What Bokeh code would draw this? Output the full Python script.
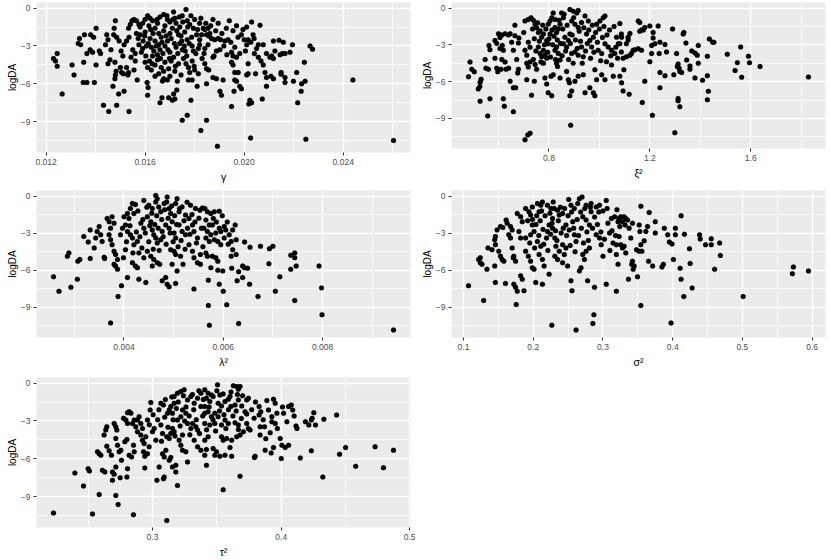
from bokeh.plotting import figure
from bokeh.layouts import row, column
from bokeh.models import FixedTicker, NumeralTickFormatter, Range1d
from bokeh.embed import file_html
from bokeh.resources import INLINE

# ---------------- data ----------------
gamma_pts = [
(0.01230,-4.0),(0.01238,-4.2),(0.01245,-3.6),(0.01245,-4.6),(0.01265,-6.8),
(0.01305,-4.5),(0.01313,-5.3),(0.01330,-2.8),(0.01335,-2.4),(0.01340,-2.9),(0.01355,-2.1),
(0.01350,-5.9),(0.01365,-5.9),(0.01352,-4.3),(0.01365,-3.6),(0.01378,-3.3),(0.01388,-3.5),
(0.01380,-2.1),(0.01392,-2.3),(0.01402,-1.6),(0.01395,-5.9),(0.01402,-4.5),
(0.01415,-3.4),(0.01420,-3.6),(0.01432,-7.7),(0.01453,-8.2),(0.01485,-7.7),
(0.01445,-2.1),(0.01450,-2.5),(0.01440,-2.9),(0.01450,-4.4),(0.01458,-4.1),(0.01462,-3.3),
(0.01475,-1.6),(0.01480,-1.0),(0.01473,-2.1),(0.01485,-2.3),(0.01495,-2.6),
(0.01478,-4.3),(0.01483,-5.0),(0.01480,-5.3),(0.01478,-5.6),(0.01470,-6.2),(0.01493,-6.8),(0.01515,-6.6),
(0.01503,-3.4),(0.01510,-3.8),(0.01500,-4.7),(0.01505,-5.1),(0.01512,-5.2),
(0.01525,-4.7),(0.01533,-5.1),(0.01530,-5.3),(0.01515,-2.9),(0.01525,-2.6),(0.01535,-2.3),
(0.01535,-8.2),(0.01533,-1.6),(0.01540,-1.3),(0.01547,-1.0),(0.01555,-0.9),(0.01565,-1.0),(0.01575,-1.3),
(0.01550,-3.3),(0.01560,-3.6),(0.01543,-3.9),(0.01560,-4.2),(0.01555,-4.9),(0.01568,-5.7),
(0.01580,-2.1),(0.01592,-2.6),(0.01575,-2.9),(0.01600,-0.9),(0.01610,-0.6),(0.01620,-0.8),
(0.01610,-4.7),(0.01608,-5.9),(0.01612,-6.3),(0.01610,-6.9),(0.01618,-4.2),(0.01630,-3.8),
(0.01625,-3.1),(0.01640,-2.6),(0.01655,-2.9),(0.01665,-2.3),(0.01675,-1.8),
(0.01655,-5.2),(0.01665,-4.7),(0.01675,-5.0),(0.01675,-5.6),(0.01690,-5.7),(0.01670,-5.8),
(0.01660,-7.5),(0.01668,-7.1),(0.01695,-7.1),(0.01710,-7.3),(0.01720,-7.2),
(0.01675,-0.5),(0.01690,-0.9),(0.01700,-1.1),(0.01715,-0.3),(0.01720,-0.8),
(0.01735,-2.1),(0.01748,-2.6),(0.01762,-3.4),(0.01755,-4.0),(0.01765,-4.4),(0.01775,-4.7),(0.01780,-5.1),
(0.01775,-5.7),(0.01715,-6.8),(0.01728,-6.5),(0.01750,-8.9),(0.01770,-8.5),(0.01785,-7.3),(0.01790,-5.7),
(0.01765,-0.1),(0.01750,-0.6),(0.01770,-1.0),(0.01795,-1.6),(0.01808,-2.1),(0.01820,-2.9),
(0.01825,-9.7),
(0.01580,-1.5),(0.01590,-1.2),(0.01600,-1.9),(0.01615,-1.4),(0.01630,-1.0),(0.01640,-1.6),(0.01650,-1.2),
(0.01660,-0.7),(0.01680,-1.4),(0.01700,-2.0),(0.01710,-1.6),(0.01725,-1.2),(0.01740,-1.5),(0.01760,-1.9),
(0.01780,-1.3),(0.01800,-0.9),(0.01820,-1.2),(0.01835,-1.6),
(0.01590,-3.2),(0.01605,-3.0),(0.01620,-2.4),(0.01635,-3.4),(0.01650,-3.7),(0.01660,-3.3),(0.01680,-3.0),
(0.01690,-2.6),(0.01700,-3.5),(0.01715,-3.9),(0.01725,-3.1),(0.01740,-2.8),(0.01750,-3.3),(0.01770,-2.5),
(0.01790,-3.0),(0.01805,-3.6),(0.01820,-2.5),
(0.01600,-4.3),(0.01625,-4.9),(0.01640,-4.5),(0.01650,-4.1),(0.01680,-4.3),(0.01695,-4.8),(0.01705,-4.2),
(0.01720,-5.0),(0.01735,-4.4),(0.01745,-5.3),(0.01790,-4.2),(0.01800,-4.9),(0.01815,-5.2),(0.01830,-4.0),
(0.01640,-5.4),(0.01700,-5.4),(0.01730,-5.8),(0.01810,-6.2),
(0.01565,-2.0),(0.01572,-2.4),(0.01585,-3.5),(0.01598,-2.2),(0.01603,-3.8),(0.01613,-2.8),(0.01622,-1.7),
(0.01628,-4.4),(0.01632,-2.0),(0.01645,-3.0),(0.01648,-0.9),(0.01655,-2.0),(0.01662,-4.0),(0.01668,-2.7),
(0.01672,-3.6),(0.01685,-2.2),(0.01688,-0.6),(0.01692,-3.3),(0.01698,-4.0),(0.01705,-2.4),(0.01712,-0.9),
(0.01718,-2.8),(0.01722,-4.6),(0.01728,-1.8),(0.01732,-3.6),(0.01738,-0.7),(0.01745,-2.2),(0.01752,-1.1),
(0.01758,-3.0),(0.01768,-3.8),(0.01772,-1.5),(0.01778,-2.8),(0.01785,-0.6),(0.01788,-2.3),(0.01795,-3.4),
(0.01798,-4.6),(0.01812,-1.7),(0.01815,-3.2),(0.01825,-0.8),(0.01828,-2.1),(0.01838,-3.6),(0.01845,-1.2),
(0.01865,-1.4),(0.01868,-2.4),(0.01885,-1.8),(0.01895,-1.2),(0.01910,-2.0),(0.01918,-3.0),(0.01928,-1.6),
(0.01930,-3.7),(0.01975,-2.3),(0.01995,-1.7),(0.02005,-3.4),(0.02040,-2.4),(0.02050,-3.2),
(0.01874,-0.9),(0.01854,-1.6),(0.01861,-2.0),(0.01848,-2.1),(0.01857,-2.2),(0.01841,-1.7),
(0.01881,-2.5),(0.01895,-2.4),(0.01905,-2.5),(0.01854,-2.9),(0.01841,-3.2),
(0.01888,-3.4),(0.01902,-3.3),(0.01878,-3.8),(0.01874,-3.9),(0.01841,-4.4),(0.01848,-4.8),(0.01857,-4.9),
(0.01874,-5.5),(0.01888,-5.6),(0.01915,-5.7),(0.01848,-6.0),(0.01902,-6.6),(0.01908,-6.9),
(0.01848,-8.9),(0.01892,-10.95),
(0.01940,-1.0),(0.01969,-1.4),(0.01955,-1.8),(0.01922,-2.6),(0.01935,-2.5),(0.01946,-2.7),(0.01962,-3.1),
(0.01949,-3.5),(0.01955,-3.8),(0.01969,-3.9),(0.01982,-3.6),(0.01949,-4.3),(0.01955,-4.5),(0.01962,-5.1),
(0.01976,-5.1),(0.01962,-5.7),(0.01969,-5.8),(0.01982,-6.2),(0.01989,-6.4),(0.01959,-6.6),(0.01949,-7.8),
(0.01989,-2.1),(0.02000,-2.5),(0.02016,-2.5),(0.02010,-1.5),(0.02030,-1.1),(0.02064,-1.35),(0.02036,-2.1),
(0.02027,-2.7),(0.02010,-2.9),
(0.02016,-4.4),(0.02016,-5.2),(0.02010,-5.3),(0.02046,-5.2),(0.02023,-7.3),(0.02030,-7.5),(0.02019,-7.6),
(0.02073,-7.2),(0.02026,-10.3),
(0.02057,-2.9),(0.02077,-2.9),(0.02041,-3.6),(0.02057,-3.9),(0.02068,-4.2),(0.02077,-4.5),(0.02084,-5.1),
(0.02090,-5.5),(0.02090,-6.2),
(0.02090,-3.6),(0.02104,-3.9),(0.02111,-3.8),(0.02118,-4.0),(0.02124,-3.4),(0.02118,-2.6),(0.02141,-2.55),
(0.02158,-2.7),
(0.02108,-5.4),(0.02118,-5.6),(0.02145,-3.7),(0.02154,-3.6),(0.02165,-3.6),(0.02149,-5.1),(0.02149,-5.25),
(0.02165,-5.5),(0.02165,-5.9),
(0.02185,-3.5),(0.02195,-2.9),(0.02199,-5.8),(0.02212,-5.1),(0.02243,-4.3),(0.02232,-6.0),(0.02246,-5.8),
(0.02230,-6.6),(0.02216,-7.5),
(0.02266,-3.0),(0.02276,-3.25),(0.02249,-10.4),(0.02439,-5.7),(0.02603,-10.5),
]

xi2_pts = [
(0.481,-5.6),(0.487,-4.4),(0.494,-5.0),(0.504,-5.2),
(0.520,-6.6),(0.526,-6.4),(0.531,-5.8),(0.527,-6.05),(0.527,-7.6),
(0.547,-4.2),(0.550,-4.9),(0.560,-5.0),(0.557,-8.8),(0.562,-3.05),(0.566,-3.4),(0.566,-7.4),
(0.586,-2.65),(0.593,-2.9),(0.600,-2.1),(0.606,-2.4),(0.613,-2.2),(0.626,-2.1),(0.639,-2.2),(0.646,-2.1),
(0.586,-4.1),(0.593,-4.9),(0.597,-5.2),(0.606,-3.3),(0.619,-3.45),(0.615,-3.05),(0.613,-4.2),(0.626,-4.4),
(0.619,-7.4),(0.623,-8.0),(0.610,-5.0),(0.630,-5.0),(0.640,-4.9),(0.646,-5.97),
(0.652,-2.8),(0.659,-3.45),(0.665,-2.25),(0.665,-1.4),(0.659,-6.5),(0.668,-6.5),(0.659,-8.45),
(0.672,-4.2),(0.679,-5.0),(0.676,-5.3),(0.679,-2.85),(0.681,-2.45),
(0.700,-2.0),(0.705,-1.06),(0.718,-0.93),(0.729,-0.8),(0.738,-1.0),(0.745,-1.33),
(0.705,-3.45),(0.712,-3.85),(0.718,-2.8),(0.725,-3.2),(0.712,-5.85),
(0.705,-10.74),(0.716,-10.34),(0.725,-10.2),
(0.712,-4.5),(0.718,-4.8),(0.725,-4.4),(0.738,-4.2),(0.745,-4.6),(0.751,-5.0),(0.731,-7.1),(0.742,-5.97),
(0.751,-1.6),(0.758,-2.0),(0.765,-1.86),(0.771,-2.39),(0.778,-2.12),
(0.758,-3.18),(0.765,-3.71),(0.771,-3.98),(0.778,-3.45),(0.784,-3.85),(0.791,-4.1),
(0.778,-4.5),(0.784,-5.7),(0.791,-6.2),(0.791,-2.65),(0.797,-2.92),(0.804,-2.12),
(0.797,-1.33),(0.804,-1.06),(0.811,-0.8),(0.817,-0.4),(0.824,-0.93),
(0.797,-6.9),(0.811,-7.16),(0.808,-5.57),(0.817,-5.44),
(0.824,-1.59),(0.830,-1.99),(0.837,-1.72),(0.844,-1.33),(0.850,-0.4),(0.857,-0.8),
(0.824,-3.45),(0.830,-3.18),(0.837,-3.71),(0.844,-4.24),(0.834,-4.77),(0.830,-4.51),(0.844,-5.7),
(0.857,-2.92),(0.863,-2.39),(0.870,-3.18),(0.877,-2.65),(0.883,-2.12),
(0.870,-5.17),(0.877,-5.84),(0.881,-6.1),(0.883,-7.16),(0.890,-6.76),(0.886,-9.55),
(0.883,-0.13),(0.896,-0.27),(0.910,-0.4),(0.916,-0.2),
(0.890,-1.06),(0.903,-1.33),(0.916,-1.59),(0.929,-1.19),(0.943,-0.66),(0.956,-1.06),
(0.890,-3.71),(0.896,-4.51),(0.903,-3.58),(0.916,-3.85),(0.929,-3.18),(0.936,-3.98),
(0.903,-5.97),(0.916,-5.57),(0.936,-5.44),(0.943,-6.9),
(0.949,-2.12),(0.962,-2.65),(0.969,-3.18),(0.976,-2.39),(0.962,-6.5),(0.976,-6.9),
(0.982,-5.04),(0.989,-5.84),(0.982,-7.16),
(0.989,-1.33),(1.002,-1.06),(1.015,-0.8),(1.022,-0.66),
(0.995,-3.45),(1.009,-3.71),(1.022,-2.92),(1.035,-3.18),(1.009,-5.44),(1.022,-5.84),(1.028,-4.38),
(1.048,-3.45),(1.061,-3.71),(1.075,-2.92),(1.068,-2.39),(1.088,-2.39),
(1.048,-4.64),(1.055,-5.57),(1.081,-5.57),(1.088,-6.1),
(0.735,-1.7),(0.742,-2.5),(0.748,-3.5),(0.755,-1.2),(0.762,-2.7),(0.768,-4.4),(0.775,-1.4),(0.782,-3.0),
(0.788,-1.7),(0.795,-3.6),(0.800,-2.5),(0.806,-4.0),(0.812,-1.8),(0.815,-3.0),(0.820,-2.3),(0.826,-4.2),
(0.833,-2.6),(0.840,-1.0),(0.846,-2.9),(0.852,-3.9),(0.855,-1.7),(0.860,-0.5),(0.866,-3.5),(0.872,-1.4),
(0.878,-4.2),(0.885,-2.9),(0.892,-2.2),(0.898,-0.8),(0.905,-2.6),(0.912,-3.3),(0.920,-1.9),(0.925,-2.7),
(0.932,-4.5),(0.938,-1.6),(0.945,-3.5),(0.952,-2.9),(0.958,-1.8),(0.965,-4.1),(0.972,-1.4),(0.978,-3.6),
(0.985,-2.0),(0.992,-2.8),(1.000,-1.7),(1.005,-4.3),(1.012,-2.4),(1.018,-1.5),(1.030,-2.2),(1.040,-1.8),
(1.045,-3.9),(1.058,-1.5),(1.065,-3.2),(1.072,-4.1),
(1.081,-1.27),(1.087,-2.12),(1.081,-2.92),(1.087,-3.58),(1.094,-4.1),(1.097,-5.04),(1.094,-6.76),(1.118,-7.03),
(1.107,-2.92),(1.114,-2.6),(1.121,-2.07),(1.114,-2.39),(1.107,-3.98),(1.121,-3.85),(1.127,-3.71),(1.134,-3.45),
(1.141,-3.4),(1.154,-3.32),(1.167,-3.45),
(1.154,-1.06),(1.160,-1.19),(1.167,-1.8),(1.160,-1.9),(1.180,-1.59),(1.174,-1.8),
(1.170,-7.7),(1.180,-5.97),
(1.200,-1.46),(1.213,-1.99),(1.213,-2.44),(1.207,-3.05),(1.207,-3.71),(1.200,-4.38),(1.220,-2.92),(1.240,-2.79),
(1.237,-3.71),(1.233,-1.46),
(1.210,-8.75),(1.240,-5.25),(1.260,-5.52),(1.240,-6.5),(1.260,-2.97),(1.266,-3.58),(1.290,-1.72),
(1.306,-3.71),(1.312,-4.56),(1.316,-4.9),(1.319,-5.17),(1.309,-4.77),(1.326,-5.25),(1.299,-10.16),(1.295,-5.44),
(1.312,-7.37),(1.312,-7.56),(1.319,-8.04),(1.332,-2.12),(1.335,-1.99),(1.343,-2.86),
(1.346,-4.24),(1.359,-4.72),(1.359,-4.99),(1.366,-3.5),(1.379,-3.66),(1.388,-3.85),(1.392,-4.51),
(1.379,-5.7),(1.409,-5.89),(1.428,-5.52),(1.392,-3.05),(1.428,-3.93),(1.436,-2.52),(1.449,-2.79),(1.454,-2.79),
(1.432,-6.79),(1.428,-7.48),(1.507,-3.77),(1.538,-5.09),(1.547,-4.46),(1.560,-3.18),(1.564,-5.65),
(1.591,-3.93),(1.595,-4.46),(1.637,-4.77),(1.829,-5.62),
]

lambda2_pts = [
(0.00258,-6.54),(0.00269,-7.71),(0.00286,-4.87),(0.00289,-4.6),(0.00293,-7.39),(0.00306,-6.73),(0.00307,-5.27),
(0.00311,-5.13),(0.00319,-3.27),(0.00328,-3.72),(0.00332,-2.74),(0.00332,-5.05),
(0.00340,-4.2),(0.00343,-3.4),(0.00346,-2.87),(0.00350,-2.47),(0.00353,-3.14),(0.00356,-3.67),(0.00360,-4.95),
(0.00361,-5.05),(0.00366,-1.81),(0.00370,-2.07),(0.00373,-2.61),(0.00376,-1.68),(0.00380,-2.2),
(0.00370,-3.14),(0.00373,-3.54),(0.00376,-3.94),(0.00380,-4.47),(0.00383,-4.73),(0.00387,-5.13),(0.00380,-5.53),
(0.00383,-5.67),(0.00387,-5.93),
(0.00373,-10.27),(0.00388,-8.14),(0.00395,-7.26),(0.00399,-5.0),(0.00403,-4.34),
(0.00393,-3.14),(0.00397,-2.61),(0.00403,-2.34),(0.00407,-2.87),(0.00400,-1.68),(0.00407,-1.41),(0.00410,-1.81),
(0.00407,-6.6),
(0.00413,-3.14),(0.00417,-3.4),(0.00420,-3.94),(0.00427,-3.67),(0.00413,-1.01),(0.00420,-1.41),(0.00417,-0.61),
(0.00423,-0.69),
(0.00417,-5.4),(0.00423,-5.67),(0.00427,-5.8),(0.00430,-6.73),(0.00444,-6.99),
(0.00434,-2.2),(0.00440,-2.61),(0.00447,-1.68),(0.00454,-2.07),(0.00457,-2.74),
(0.00430,-4.6),(0.00440,-5.0),(0.00447,-4.47),(0.00454,-4.87),(0.00460,-5.13),(0.00457,-5.67),
(0.00440,-0.35),(0.00450,-0.74),(0.00457,-1.01),(0.00464,-0.48),(0.00470,-0.88),(0.00474,-1.28),(0.00481,-0.61),
(0.00464,0.05),(0.00467,-0.21),
(0.00460,-3.14),(0.00464,-3.4),(0.00467,-3.8),(0.00474,-3.54),(0.00477,-2.87),(0.00467,-5.4),(0.00472,-5.53),
(0.00477,-6.86),(0.00484,-6.6),(0.00487,-7.13),(0.00491,-7.34),
(0.00487,-0.08),(0.00486,-0.48),(0.00491,-1.01),(0.00494,-1.41),
(0.00484,-2.34),(0.00491,-2.61),(0.00497,-2.07),(0.00501,-3.0),(0.00504,-3.4),
(0.00494,-4.34),(0.00501,-4.47),(0.00504,-4.73),(0.00497,-5.53),(0.00504,-7.07),
(0.00507,-0.21),(0.00504,-0.61),(0.00511,-1.28),(0.00517,-0.88),(0.00524,-1.54),
(0.00511,-2.34),(0.00517,-2.87),(0.00524,-3.14),(0.00528,-2.61),(0.00514,-4.87),(0.00519,-5.53),(0.00507,-6.06),
(0.00531,-1.81),(0.00538,-2.34),(0.00541,-2.87),(0.00548,-3.4),
(0.00534,-0.74),(0.00544,-1.01),(0.00553,-1.14),(0.00558,-0.96),
(0.00531,-3.94),(0.00538,-4.47),(0.00541,-5.0),(0.00548,-5.4),(0.00554,-5.53),(0.00541,-7.53),(0.00554,-4.73),
(0.00405,-3.7),(0.00412,-2.4),(0.00418,-4.6),(0.00425,-2.9),(0.00428,-1.2),(0.00432,-3.3),(0.00436,-4.2),
(0.00438,-1.9),(0.00443,-3.0),(0.00446,-0.9),(0.00450,-3.7),(0.00452,-2.4),(0.00456,-1.4),(0.00459,-4.3),
(0.00462,-2.3),(0.00466,-1.6),(0.00469,-2.6),(0.00471,-4.4),(0.00476,-1.9),(0.00479,-3.3),(0.00482,-1.1),
(0.00485,-3.9),(0.00489,-1.8),(0.00493,-3.0),(0.00496,-0.8),(0.00499,-3.7),(0.00502,-1.6),(0.00506,-2.3),
(0.00509,-4.1),(0.00512,-1.0),(0.00515,-3.6),(0.00521,-2.0),(0.00523,-4.3),(0.00527,-0.5),(0.00533,-3.1),
(0.00537,-1.5),(0.00543,-2.1),(0.00546,-3.8),(0.00551,-1.8),(0.00556,-2.6),(0.00559,-4.1),(0.00563,-1.0),
(0.00586,-2.1),(0.00598,-1.6),(0.00608,-2.1),(0.00610,-3.9),
(0.00568,-1.28),(0.00575,-1.41),(0.00582,-1.28),(0.00592,-1.22),(0.00580,-1.81),(0.00565,-1.94),(0.00572,-2.34),
(0.00578,-2.34),
(0.00561,-2.61),(0.00568,-2.87),(0.00575,-3.14),(0.00585,-3.0),(0.00592,-2.61),(0.00595,-2.87),(0.00602,-2.47),
(0.00605,-2.74),(0.00612,-3.14),(0.00619,-2.74),(0.00624,-2.34),
(0.00565,-3.4),(0.00572,-3.67),(0.00582,-3.54),(0.00589,-3.67),(0.00595,-3.94),(0.00602,-3.4),(0.00616,-3.67),
(0.00626,-3.54),
(0.00565,-4.6),(0.00568,-4.87),(0.00578,-4.87),(0.00585,-5.0),(0.00589,-5.27),(0.00575,-5.8),(0.00589,-6.01),
(0.00599,-6.06),
(0.00616,-4.87),(0.00619,-4.34),(0.00626,-4.73),(0.00617,-5.85),(0.00570,-6.81),(0.00592,-7.13),(0.00600,-7.71),
(0.00570,-8.86),(0.00607,-8.8),(0.00572,-10.45),(0.00631,-10.32),
(0.00628,-6.86),(0.00631,-6.12),(0.00639,-5.67),(0.00643,-5.8),(0.00649,-5.85),(0.00639,-6.6),(0.00653,-7.13),
(0.00643,-3.72),(0.00654,-4.15),(0.00670,-8.14),(0.00675,-4.07),(0.00693,-4.26),(0.00700,-4.07),(0.00692,-5.48),
(0.00705,-7.71),(0.00714,-6.54),(0.00736,-4.79),(0.00744,-4.6),(0.00744,-5.0),(0.00736,-5.93),(0.00747,-5.67),
(0.00744,-8.46),
(0.00793,-5.67),(0.00798,-7.45),(0.00799,-9.6),(0.00943,-10.85),
]

sigma2_pts = [
(0.1072,-7.26),(0.1217,-5.13),(0.1241,-5.4),(0.1265,-5.53),(0.1241,-5.0),(0.1289,-8.46),(0.1337,-5.93),
(0.1352,-4.2),(0.1409,-4.34),(0.1448,-5.67),(0.1458,-6.99),(0.1458,-3.27),(0.1448,-3.54),(0.1458,-3.94),
(0.1482,-2.74),(0.1530,-2.47),(0.1564,-2.55),(0.1506,-4.47),(0.1530,-4.87),(0.1554,-5.13),(0.1578,-5.27),
(0.1602,-7.07),
(0.1612,-1.94),(0.1626,-2.2),(0.1674,-2.47),(0.1698,-2.74),(0.1674,-3.4),(0.1650,-3.14),
(0.1698,-4.2),(0.1722,-4.87),(0.1747,-5.27),(0.1713,-5.0),(0.1722,-7.13),(0.1747,-7.39),(0.1771,-7.71),
(0.1756,-8.78),
(0.1771,-1.41),(0.1819,-1.68),(0.1843,-2.07),(0.1795,-2.87),(0.1819,-3.4),(0.1819,-6.46),(0.1843,-6.73),
(0.1867,-7.66),
(0.1891,-1.01),(0.1939,-1.28),(0.1987,-0.88),(0.1963,-1.54),
(0.1891,-4.47),(0.1930,-4.87),(0.1963,-5.27),(0.1987,-5.8),(0.2012,-5.93),(0.1891,-3.4),(0.1963,-3.14),
(0.2012,-2.87),(0.1987,-2.34),(0.2036,-6.99),
(0.2060,-0.61),(0.2108,-0.74),(0.2132,-0.48),(0.2084,-1.28),
(0.2060,-3.67),(0.2108,-4.07),(0.2084,-4.73),(0.2132,-5.13),(0.2156,-5.67),(0.2132,-7.13),
(0.2204,-0.74),(0.2253,-1.01),(0.2277,-1.81),(0.2228,-2.34),(0.2204,-2.87),(0.2277,-2.61),(0.2228,-6.33),
(0.2267,-10.45),
(0.2286,-0.48),(0.2349,-1.14),(0.2373,-1.54),(0.2421,-1.41),
(0.2310,-3.4),(0.2325,-4.07),(0.2373,-4.47),(0.2421,-3.94),(0.2445,-4.73),(0.2469,-4.2),
(0.2310,-4.87),(0.2349,-5.13),(0.2421,-5.4),(0.2493,-5.67),
(0.2508,-0.27),(0.2541,-0.74),(0.2590,-1.01),(0.2638,-0.61),(0.2662,-0.21),(0.2700,-0.08),
(0.2469,-2.34),(0.2517,-2.74),(0.2566,-2.07),(0.2590,-3.14),(0.2614,-3.67),
(0.2541,-6.86),(0.2556,-7.66),(0.2614,-10.85),(0.2662,-6.06),(0.2686,-5.8),
(0.2710,-4.73),(0.2734,-5.13),(0.2758,-4.47),(0.2806,-4.2),
(0.2710,-1.68),(0.2758,-1.94),(0.2806,-2.34),(0.2830,-1.28),
(0.2758,-0.74),(0.2830,-0.61),(0.2903,-0.88),(0.2951,-0.74),
(0.2780,-6.86),(0.2855,-10.32),(0.2870,-9.6),(0.2879,-7.39),
(0.2903,-3.14),(0.2951,-3.4),(0.2975,-3.94),(0.3000,-4.87),(0.3047,-0.35),(0.3047,-7.13),
(0.3071,-2.2),(0.3120,-1.81),(0.3168,-1.68),(0.3216,-2.07),
(0.3095,-3.0),(0.3144,-3.8),(0.3192,-3.94),(0.3192,-4.73),(0.3216,-5.53),(0.3192,-7.71),
(0.1920,-2.0),(0.1950,-3.8),(0.1990,-1.9),(0.2020,-4.2),(0.2040,-2.3),(0.2050,-1.6),(0.2080,-3.2),(0.2100,-2.0),
(0.2120,-1.2),(0.2140,-2.7),(0.2150,-3.9),(0.2170,-1.6),(0.2190,-3.4),(0.2210,-4.4),(0.2240,-1.4),(0.2250,-3.1),
(0.2270,-2.2),(0.2300,-1.0),(0.2320,-2.8),(0.2340,-3.6),(0.2360,-2.0),(0.2390,-0.9),(0.2400,-3.0),(0.2430,-2.6),
(0.2450,-1.0),(0.2480,-3.2),(0.2500,-1.6),(0.2530,-4.0),(0.2550,-1.3),(0.2580,-2.6),(0.2600,-4.5),(0.2630,-1.9),
(0.2650,-3.2),(0.2680,-1.3),(0.2690,-2.6),(0.2720,-3.8),(0.2740,-1.0),(0.2770,-2.9),(0.2790,-3.6),(0.2820,-0.9),
(0.2850,-2.6),(0.2880,-1.7),(0.2920,-2.3),(0.2940,-1.3),(0.2970,-2.9),(0.3000,-1.2),(0.3020,-3.5),(0.3060,-1.0),
(0.3100,-4.4),(0.3130,-2.8),(0.3180,-3.2),(0.3200,-1.1),
(0.3231,-1.81),(0.3255,-1.68),(0.3303,-1.68),(0.3327,-1.81),(0.3351,-1.94),(0.3279,-2.07),(0.3317,-2.34),
(0.3241,-2.47),
(0.3375,-2.61),(0.3423,-2.2),(0.3399,-3.4),(0.3231,-3.27),(0.3255,-3.94),(0.3303,-4.07),(0.3279,-4.2),
(0.3327,-4.6),
(0.3423,-5.27),(0.3413,-5.53),(0.3447,-5.67),(0.3433,-5.93),(0.3365,-6.73),(0.3495,-6.54),
(0.3481,-4.34),(0.3519,-4.47),(0.3558,-4.47),(0.3543,-3.94),(0.3591,-3.62),
(0.3519,-2.34),(0.3529,-2.87),(0.3543,-0.82),(0.3663,-1.33),(0.3639,-2.47),(0.3543,-8.86),
(0.3615,-2.87),(0.3750,-2.07),(0.3750,-3.0),(0.3654,-5.27),(0.3712,-5.67),(0.3846,-5.74),(0.3866,-5.53),
(0.3880,-2.61),(0.3928,-3.14),(0.3952,-3.72),(0.3990,-3.88),(0.4010,-5.13),(0.4038,-3.14),(0.4038,-2.61),
(0.3976,-10.27),
(0.4106,-5.85),(0.4120,-6.73),(0.4120,-1.6),(0.4168,-3.09),(0.4159,-8.14),(0.4240,-4.26),(0.4250,-5.45),
(0.4279,-7.45),
(0.4385,-3.14),(0.4394,-3.48),(0.4471,-3.94),(0.4553,-3.94),(0.4553,-3.46),(0.4673,-3.8),(0.4683,-4.81),
(0.4601,-5.93),
(0.5010,-8.14),(0.5716,-6.28),(0.5731,-5.74),(0.5947,-6.06),
]

tau2_pts = [
(0.2231,-10.29),(0.2397,-7.13),(0.2464,-8.16),(0.2500,-6.78),(0.2510,-6.97),(0.2534,-10.37),
(0.2573,-5.45),(0.2586,-5.59),(0.2599,-5.72),(0.2586,-8.83),(0.2611,-6.91),(0.2630,-7.05),
(0.2624,-4.12),(0.2637,-3.72),(0.2645,-3.46),(0.2645,-5.0),(0.2663,-5.37),(0.2681,-5.72),
(0.2689,-7.05),(0.2702,-7.23),(0.2715,-6.65),(0.2689,-7.71),(0.2715,-8.91),(0.2733,-9.63),
(0.2702,-3.19),(0.2715,-3.46),(0.2723,-3.72),(0.2715,-4.39),(0.2728,-4.92),(0.2741,-5.45),(0.2754,-5.32),
(0.2759,-6.12),(0.2749,-7.5),
(0.2775,-2.79),(0.2793,-2.93),(0.2806,-3.19),(0.2785,-4.65),(0.2801,-4.47),(0.2806,-2.34),(0.2819,-2.26),
(0.2832,-2.39),
(0.2806,-6.78),(0.2801,-7.45),(0.2819,-5.72),(0.2837,-5.85),(0.2852,-4.92),(0.2858,-5.45),
(0.2845,-3.19),(0.2858,-2.93),(0.2870,-3.46),(0.2883,-3.86),(0.2852,-10.43),
(0.2883,-2.93),(0.2896,-2.66),(0.2909,-3.19),(0.2922,-3.59),(0.2909,-4.12),(0.2922,-4.52),(0.2935,-4.79),
(0.2948,-4.26),
(0.2930,-5.45),(0.2940,-5.8),(0.2961,-5.59),(0.2974,-5.05),(0.2940,-6.73),(0.2961,-2.93),(0.2982,-2.13),
(0.2987,-1.54),
(0.3000,-3.86),(0.3013,-3.59),(0.3026,-4.52),(0.3034,-7.71),(0.3052,-6.65),(0.3065,-3.32),(0.3078,-3.99),
(0.3065,-1.6),(0.3085,-1.73),
(0.3085,-7.58),(0.3091,-7.45),(0.3111,-10.9),(0.3078,-5.59),(0.3091,-5.85),(0.3104,-5.32),
(0.3117,-2.39),(0.3130,-2.13),(0.3142,-1.86),(0.3155,-2.39),(0.3168,-1.6),
(0.3111,-4.26),(0.3130,-4.39),(0.3142,-3.99),(0.3155,-3.59),(0.3168,-3.86),(0.3130,-6.12),(0.3142,-5.9),
(0.3155,-6.65),(0.3181,-7.05),(0.3194,-8.11),(0.3181,-6.52),
(0.3168,-1.06),(0.3194,-0.8),(0.3220,-0.66),(0.3246,-0.53),
(0.3194,-2.93),(0.3220,-2.66),(0.3233,-2.13),(0.3259,-2.39),(0.3207,-4.52),(0.3220,-4.92),(0.3233,-4.12),
(0.3233,-5.32),(0.3259,-5.45),(0.3272,-6.25),
(0.3272,-1.33),(0.3298,-1.06),(0.3324,-1.6),(0.3350,-1.2),
(0.3272,-3.19),(0.3298,-3.59),(0.3311,-3.19),(0.3337,-3.46),(0.3350,-3.72),(0.3324,-4.52),(0.3350,-5.05),
(0.3376,-5.32),
(0.3376,-1.86),(0.3376,-0.8),
(0.2975,-3.3),(0.3005,-2.5),(0.3040,-2.9),(0.3050,-2.1),(0.3070,-4.6),(0.3095,-2.7),(0.3100,-1.3),(0.3120,-3.5),
(0.3150,-1.1),(0.3160,-2.9),(0.3175,-4.2),(0.3185,-2.0),(0.3200,-1.5),(0.3215,-3.4),(0.3240,-1.0),(0.3250,-3.0),
(0.3260,-1.9),(0.3285,-2.6),(0.3290,-4.1),(0.3310,-0.9),(0.3320,-2.1),(0.3340,-2.9),(0.3360,-0.6),(0.3365,-4.0),
(0.3390,-2.6),(0.3395,-1.3),(0.3420,-3.7),(0.3440,-1.9),(0.3470,-2.9),(0.3490,-3.8),(0.3500,-0.6),(0.3520,-2.2),
(0.3555,-2.5),(0.3570,-3.6),(0.3590,-2.1),(0.3610,-0.7),(0.3625,-2.6),(0.3650,-2.2),(0.3660,-0.9),(0.3690,-2.8),
(0.3700,-1.0),(0.3770,-2.1),(0.3800,-1.5),(0.3860,-2.9),(0.3880,-4.4),(0.3970,-3.6),(0.4010,-1.9),(0.4100,-2.6),
(0.3406,-0.53),(0.3432,-0.8),(0.3458,-0.93),(0.3419,-1.2),(0.3445,-1.46),(0.3406,-1.86),
(0.3471,-1.06),(0.3505,-0.13),(0.3523,-0.93),(0.3549,-0.85),
(0.3510,-1.6),(0.3536,-1.81),(0.3563,-1.46),(0.3589,-1.28),(0.3602,-1.06),(0.3628,-0.21),(0.3654,-0.27),
(0.3667,-0.48),(0.3680,-0.27),
(0.3609,-1.86),(0.3641,-1.73),(0.3667,-1.33),(0.3693,-1.81),(0.3732,-1.33),(0.3745,-1.2),
(0.3406,-2.39),(0.3432,-2.26),(0.3458,-2.66),(0.3484,-2.39),(0.3510,-2.66),(0.3563,-2.93),
(0.3406,-3.19),(0.3445,-3.32),(0.3484,-3.19),(0.3536,-3.32),(0.3589,-3.19),(0.3641,-3.14),(0.3667,-3.32),
(0.3719,-2.26),(0.3732,-2.45),(0.3732,-3.19),(0.3745,-3.59),(0.3758,-3.72),
(0.3406,-4.52),(0.3432,-4.26),(0.3471,-5.19),(0.3497,-5.45),(0.3419,-5.27),(0.3406,-5.72),(0.3419,-6.52),
(0.3484,-5.72),(0.3523,-5.8),(0.3563,-5.72),(0.3615,-5.8),(0.3602,-5.11),(0.3615,-4.52),(0.3654,-4.26),
(0.3680,-4.12),(0.3706,-3.86),(0.3667,-3.67),
(0.3536,-4.26),(0.3549,-4.52),(0.3576,-4.39),(0.3549,-8.46),(0.3680,-7.39),(0.3792,-5.9),(0.3797,-5.8),
(0.3789,-2.79),(0.3828,-2.53),(0.3841,-2.26),(0.3828,-1.86),(0.3836,-3.46),(0.3836,-4.12),(0.3870,-3.46),
(0.3875,-5.32),
(0.3888,-1.38),(0.3901,-2.13),(0.3927,-2.66),(0.3940,-1.28),(0.3953,-1.6),(0.3966,-2.39),(0.3953,-3.19),
(0.3927,-3.06),
(0.3914,-3.94),(0.3940,-5.11),(0.3922,-5.53),(0.3992,-4.39),(0.4005,-4.92),(0.4031,-5.11),(0.4057,-4.92),
(0.4000,-5.98),
(0.4018,-2.39),(0.4044,-3.06),(0.4057,-1.86),(0.4078,-1.73),(0.4089,-2.13),(0.4115,-3.4),(0.4122,-3.59),
(0.4148,-5.93),
(0.4188,-3.06),(0.4214,-3.32),(0.4234,-2.93),(0.4240,-2.79),(0.4253,-2.34),(0.4266,-3.32),(0.4234,-5.37),
(0.4323,-7.45),(0.4331,-2.87),
(0.4430,-2.53),(0.4453,-5.64),(0.4500,-5.11),(0.4578,-6.6),(0.4729,-5.05),(0.4794,-6.7),(0.4872,-5.32),
]

y_label = "logDA"
y_ticks = [-9, -6, -3, 0]
y_minor = [-10.5, -7.5, -4.5, -1.5]

gamma_ticks = [0.012, 0.016, 0.020, 0.024]
gamma_minor = [0.010, 0.014, 0.018, 0.022, 0.026]
xi2_ticks = [0.8, 1.2, 1.6]
xi2_minor = [0.4, 0.6, 1.0, 1.4, 1.8]
lambda2_ticks = [0.004, 0.006, 0.008]
lambda2_minor = [0.003, 0.005, 0.007, 0.009]
sigma2_ticks = [0.1, 0.2, 0.3, 0.4, 0.5, 0.6]
sigma2_minor = [0.15, 0.25, 0.35, 0.45, 0.55]
tau2_ticks = [0.3, 0.4, 0.5]
tau2_minor = [0.25, 0.35, 0.45]

FONT = "Liberation Sans"


def panel(pts, xlabel, ticks, minor, fmt, width, height, left, right, top, bottom):
    xs = [p[0] for p in pts]
    ys = [p[1] for p in pts]
    lo, hi = min(xs), max(xs)
    pad = (hi - lo) * 0.05
    p = figure(width=width, height=height,
               x_range=Range1d(lo - pad, hi + pad), y_range=Range1d(-11.45, 0.45),
               output_backend="svg", toolbar_location=None,
               min_border_left=left, min_border_right=right,
               min_border_top=top, min_border_bottom=bottom,
               background_fill_color="#EBEBEB", border_fill_color="white",
               outline_line_color=None)
    p.scatter(xs, ys, size=5, fill_color="black", line_color="black", line_width=0.2)
    p.xaxis.ticker = FixedTicker(ticks=ticks, minor_ticks=minor)
    p.yaxis.ticker = FixedTicker(ticks=y_ticks, minor_ticks=y_minor)
    p.xaxis.formatter = NumeralTickFormatter(format=fmt)
    p.xaxis.axis_label = xlabel
    p.yaxis.axis_label = y_label
    for ax in p.axis:
        ax.axis_line_color = None
        ax.major_tick_line_color = "#333333"
        ax.major_tick_line_width = 1
        ax.major_tick_in = 0
        ax.major_tick_out = 3
        ax.minor_tick_line_color = None
        ax.major_label_text_font = FONT
        ax.major_label_text_font_size = "8.5px"
        ax.major_label_text_color = "#4D4D4D"
        ax.major_label_standoff = 2
        ax.axis_label_text_font = FONT
        ax.axis_label_text_font_style = "normal"
        ax.axis_label_text_color = "black"
    p.xaxis.axis_label_text_font_size = "10.5px"
    p.xaxis.axis_label_standoff = 3
    p.yaxis.axis_label_text_font_size = "10px"
    p.yaxis.axis_label_standoff = 0
    p.grid.grid_line_color = "white"
    p.grid.grid_line_width = 1.4
    p.grid.minor_grid_line_color = "white"
    p.grid.minor_grid_line_width = 0.7
    return p


p1 = panel(gamma_pts, "γ", gamma_ticks, gamma_minor, "0.000", 415, 185, 36, 5, 2, 31)
p2 = panel(xi2_pts, "ξ²", xi2_ticks, xi2_minor, "0.0", 415, 185, 36, 5, 2, 37)
p3 = panel(lambda2_pts, "λ²", lambda2_ticks, lambda2_minor, "0.000", 415, 185, 36, 5, 5, 31)
p4 = panel(sigma2_pts, "σ²", sigma2_ticks, sigma2_minor, "0.0", 415, 185, 36, 5, 5, 31)
p5 = panel(tau2_pts, "τ²", tau2_ticks, tau2_minor, "0.0", 415, 190, 36, 5, 7, 33)

layout = row(column(p1, p3, p5), column(p2, p4))

open("out.html", "w").write(file_html(layout, INLINE))
